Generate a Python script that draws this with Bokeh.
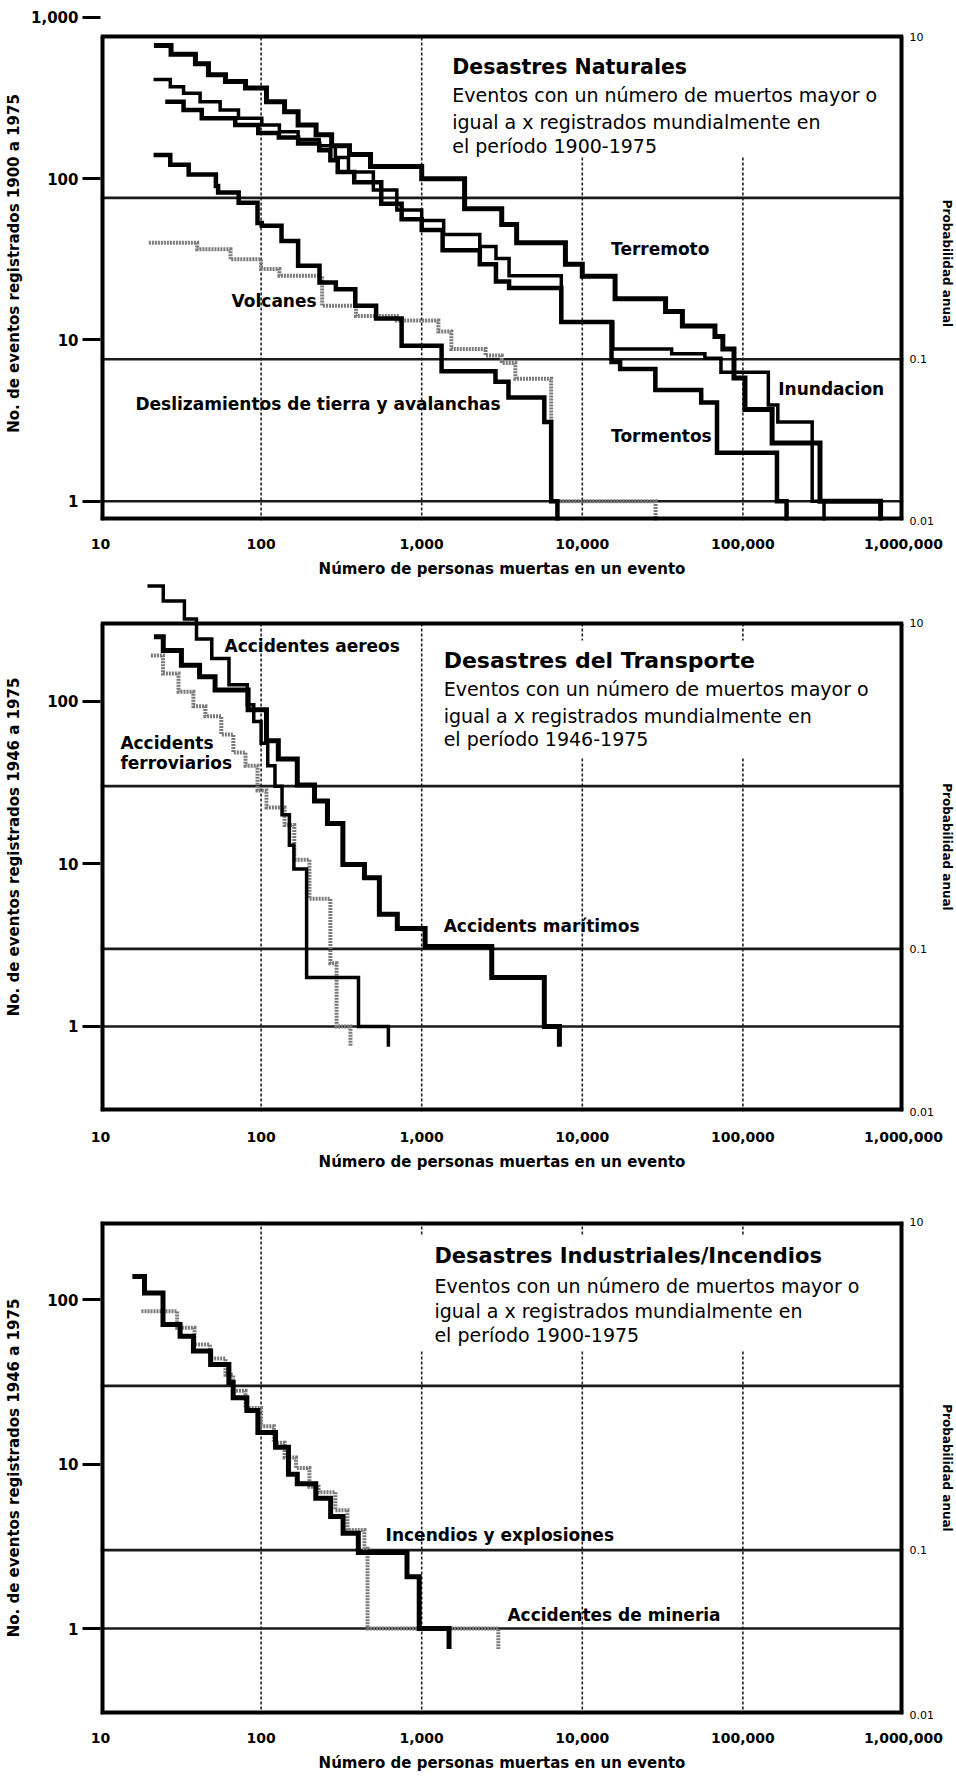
from bokeh.plotting import figure
from bokeh.layouts import column
from bokeh.models import Range1d, LogAxis, LogScale, FixedTicker, NumeralTickFormatter, Label
from bokeh.embed import file_html
from bokeh.resources import INLINE

FONT = "DejaVu Sans"

# ---------------- shared axis data ----------------
x_ticks = [10, 100, 1000, 10000, 100000, 1000000]
x_grid = [100, 1000, 10000, 100000]
prob_ticks = [10, 0.1, 0.01]
prob_grid = [1, 0.1]
prob_range = [0.01, 10]
tail_count = 0.75          # where the last event's drop is drawn to
x_title = "Número de personas muertas en un evento"
right_title = "Probabilidad anual"

# ---------------- panel 1: natural disasters (1900-1975) ----------------
p1_years = 76
p1_left_ticks = [1, 10, 100, 1000]
p1_title = "Desastres Naturales"
p1_sub = ["Eventos con un número de muertos mayor o",
          "igual a x registrados mundialmente en",
          "el período 1900-1975"]
p1_ytitle = "No. de eventos registrados 1900 a 1975"

terremoto_x = [21.5, 27.5, 39, 47, 60, 80, 108, 140, 170, 220, 275, 355, 480, 1000, 1850,
               3150, 3900, 7850, 10000, 16000, 33000, 42000, 67000, 75000, 88000, 103000,
               152000, 302000, 720000]
terremoto_n = [670, 590, 515, 440, 400, 365, 300, 260, 215, 187, 160, 141, 119, 100, 65,
               52, 40, 29.5, 24.8, 18, 15, 12.2, 10.5, 8.8, 5.8, 3.7, 2.3, 1]

inundacion_x = [21.4, 27.2, 32.9, 41.7, 55.6, 72.3, 101, 130, 170, 230, 290, 350, 500, 700,
                1000, 1370, 2300, 2900, 3500, 7400, 15500, 36000, 58000, 73000, 144000,
                165000, 270000, 320000]
inundacion_n = [412, 371, 338, 300, 266, 237, 215, 195, 175, 160, 135, 110, 85, 64, 55, 45,
                38, 32, 25, 12.9, 8.8, 8.2, 7.7, 6.3, 3.95, 3.1, 1]

tormentos_x = [25.3, 32.9, 42.7, 69, 96, 129, 170, 230, 270, 300, 380, 560, 750, 1000, 1350,
               2300, 2900, 3500, 7400, 15200, 17200, 28500, 55000, 69000, 163000, 187000]
tormentos_n = [300, 266, 237, 215, 192, 180, 165, 150, 130, 110, 95, 70, 56, 48, 36, 29.5,
               23, 21, 12.9, 7.3, 6.6, 4.9, 4.1, 2, 1]

deslizamientos_x = [21.4, 27.2, 35.4, 52.3, 54, 72.5, 95, 101, 134, 170, 231, 292, 386, 520,
                    750, 1330, 2880, 3470, 5800, 6400, 7000]
deslizamientos_n = [140, 122, 106, 90, 82, 71, 53, 51, 41, 28.8, 22.7, 20.6, 16.3, 13.6,
                    9.2, 6.4, 5.5, 4.4, 3.1, 1]

volcanes_x = [20, 40, 64.5, 100, 130, 240, 390, 700, 1270, 1530, 2500, 3150, 3830, 6400, 28600]
volcanes_n = [40, 36.5, 31.6, 27.5, 25, 16.3, 14.1, 13.2, 11.3, 8.8, 8.0, 7.2, 5.75, 1]

# ---------------- panel 2: transport (1946-1975) ----------------
p2_years = 30
p2_left_ticks = [1, 10, 100]
p2_title = "Desastres del Transporte"
p2_sub = ["Eventos con un número de muertos mayor o",
          "igual a x registrados mundialmente en",
          "el período 1946-1975"]
p2_ytitle = "No. de eventos registrados 1946 a 1975"

aereos_x = [19.6, 24.6, 33.3, 39.6, 49.3, 63.1, 82, 90, 100, 110, 122, 135, 150, 160, 192,
            404, 620]
aereos_n = [510, 413, 320, 241, 183, 126, 95, 75, 55, 40, 30, 20, 13, 9.3, 2, 1]

maritimos_x = [21.5, 24.6, 31.9, 41.4, 51.7, 83, 108, 128, 168, 215, 259, 323, 440, 545, 705,
               1050, 2730, 5800, 7200]
maritimos_n = [249, 205, 166, 141, 117, 88.5, 57.1, 44, 30.5, 24.3, 17.7, 9.9, 8.2, 4.9, 4.0,
               3.1, 2, 1]

ferroviarios_x = [20.6, 24.5, 30.6, 37.9, 45, 56.5, 67.2, 80, 95, 108, 140, 161, 200, 270,
                  295, 360]
ferroviarios_n = [191, 148, 114, 93, 80.7, 62.4, 48.3, 40.1, 28.2, 22.2, 17.3, 10.6, 6.1,
                  2.45, 1]

# ---------------- panel 3: industrial / fires ----------------
p3_years = 30
p3_left_ticks = [1, 10, 100]
p3_title = "Desastres Industriales/Incendios"
p3_sub = ["Eventos con un número de muertos mayor o",
          "igual a x registrados mundialmente en",
          "el período 1900-1975"]
p3_ytitle = "No. de eventos registrados 1946 a 1975"

incendios_x = [15.8, 18.8, 24.5, 31.3, 37.9, 48.5, 63, 67, 81.5, 95.5, 123, 148, 168, 219,
               271, 324, 403, 810, 965, 1480]
incendios_n = [139, 110, 70.8, 60, 48.9, 40.5, 31.4, 25.4, 21.2, 15.6, 12.7, 8.7, 7.6, 6.2,
               4.8, 3.8, 2.9, 2.07, 1]

mineria_x = [18, 30, 38.5, 48, 60, 67, 80, 100, 120, 140, 165, 200, 228, 290, 345, 440, 460, 3000]
mineria_n = [85.4, 67.6, 53.5, 44, 35, 28, 22, 17, 13.5, 11, 9.5, 7.3, 6.76, 5.25, 3.98, 3.06, 1]

BLACK = "black"
GREY = "#7a7a7a"


def step_path(xs, ns, bottom):
    px, py = [], []
    for i, n in enumerate(ns):
        px += [xs[i], xs[i + 1]]
        py += [n, n]
    px.append(xs[-1])
    py.append(bottom)
    return px, py


def build(cfg):
    years = cfg["years"]
    lo = prob_range[0] * years
    top = prob_range[1] * years
    hi = cfg["y_hi"]
    p = figure(width=956, height=cfg["height"], x_axis_type="log", y_axis_type="log",
               x_range=Range1d(10, 1e6), y_range=Range1d(lo, hi),
               output_backend="svg", toolbar_location=None,
               min_border_left=100, min_border_right=49,
               min_border_top=cfg["border_top"], min_border_bottom=cfg["border_bottom"])
    p.outline_line_color = None
    p.grid.visible = False

    xa = p.xaxis[0]
    xa.ticker = FixedTicker(ticks=x_ticks)
    xa.formatter = NumeralTickFormatter(format="0,0")
    xa.axis_line_color = None
    xa.major_tick_line_color = None
    xa.minor_tick_line_color = None
    xa.major_label_standoff = cfg["x_standoff"]
    xa.major_label_text_font = FONT
    xa.major_label_text_font_size = "14px"
    xa.major_label_text_font_style = "bold"
    xa.major_label_text_color = BLACK
    xa.axis_label = x_title
    xa.axis_label_standoff = 8
    xa.axis_label_text_font = FONT
    xa.axis_label_text_font_size = "15px"
    xa.axis_label_text_font_style = "bold"
    xa.axis_label_text_color = BLACK

    ya = p.yaxis[0]
    ya.ticker = FixedTicker(ticks=cfg["left_ticks"])
    ya.formatter = NumeralTickFormatter(format="0,0")
    ya.axis_line_color = None
    ya.major_tick_out = 18
    ya.major_tick_in = 0
    ya.major_tick_line_width = 3
    ya.major_tick_line_color = BLACK
    ya.minor_tick_line_color = None
    ya.major_label_standoff = 4
    ya.major_label_text_font = FONT
    ya.major_label_text_font_size = "15px"
    ya.major_label_text_font_style = "bold"
    ya.major_label_text_color = BLACK
    ya.axis_label = cfg["y_title"]
    ya.axis_label_standoff = cfg["y_label_standoff"]
    ya.axis_label_text_font = FONT
    ya.axis_label_text_font_size = "15px"
    ya.axis_label_text_font_style = "bold"
    ya.axis_label_text_color = BLACK

    p.extra_y_ranges = {"prob": Range1d(lo / years, hi / years)}
    p.extra_y_scales = {"prob": LogScale()}
    ra = LogAxis(y_range_name="prob", ticker=FixedTicker(ticks=prob_ticks),
                 formatter=NumeralTickFormatter(format="0.[00]"))
    ra.axis_line_color = None
    ra.major_tick_out = 0
    ra.major_tick_in = 0
    ra.major_tick_line_color = None
    ra.minor_tick_line_color = None
    ra.major_label_standoff = 6
    ra.major_label_text_font = FONT
    ra.major_label_text_font_size = "11px"
    ra.major_label_text_color = BLACK
    ra.axis_label = right_title
    ra.axis_label_standoff = 3
    ra.axis_label_text_font = FONT
    ra.axis_label_text_font_size = "12px"
    ra.axis_label_text_font_style = "bold"
    ra.axis_label_text_color = BLACK
    p.add_layout(ra, "right")

    # dashed vertical grid
    for gx in x_grid:
        p.line([gx, gx], [lo, top], line_color="#222222", line_width=1.6, line_dash="3 2")
    # white area behind the caption
    bx0, bx1, by0, by1 = cfg["text_bg"]
    p.quad(left=[bx0], right=[bx1], bottom=[by0], top=[by1], fill_color="white", line_color=None)
    # horizontal probability lines + count = 1 line
    for lvl in [g * years for g in prob_grid] + [1]:
        p.line([10, 1e6], [lvl, lvl], line_color="#1a1a1a", line_width=2.6)

    for s in cfg["series"]:
        px, py = step_path(s["x"], s["n"], tail_count)
        p.line(px, py, line_color=s["color"], line_width=s["width"], line_dash=s["dash"],
               line_join="miter")

    # frame box
    p.line([10, 10], [lo, top], line_color=BLACK, line_width=8)
    p.line([1e6, 1e6], [lo, top], line_color=BLACK, line_width=8)
    p.line([10, 1e6], [lo, lo], line_color=BLACK, line_width=8)
    p.line([10, 1e6], [top, top], line_color=BLACK, line_width=8 if top >= hi else 4)

    # captions
    tx, ty = cfg["title_pos"]
    p.add_layout(Label(x=tx, y=ty, text=cfg["title"], text_font=FONT,
                       text_font_size=cfg["title_size"], text_font_style="bold",
                       text_baseline="middle", text_color=BLACK))
    for txt, (sx, sy) in zip(cfg["sub"], cfg["sub_pos"]):
        p.add_layout(Label(x=sx, y=sy, text=txt, text_font=FONT, text_font_size="19px",
                           text_baseline="middle", text_color=BLACK))
    for txt, lx, ly in cfg["labels"]:
        p.add_layout(Label(x=lx, y=ly, text=txt, text_font=FONT, text_font_size="17px",
                           text_font_style="bold", text_baseline="middle", text_color=BLACK))
    return p


panel1 = dict(
    years=p1_years, y_hi=1167, height=582, border_top=6, border_bottom=62, x_standoff=12,
    left_ticks=p1_left_ticks, y_title=p1_ytitle, y_label_standoff=5,
    text_bg=(1100, 9e5, 137, 760),
    title=p1_title, title_size="20.5px", title_pos=(1550, 490), sub=p1_sub,
    sub_pos=[(1550, 330), (1550, 225), (1550, 160)],
    labels=[("Terremoto", 15100, 36.4), ("Volcanes", 65.5, 17.4),
            ("Deslizamientos de tierra y avalanchas", 16.5, 4.0),
            ("Inundacion", 166000, 5.0), ("Tormentos", 15100, 2.55)],
    series=[
        dict(x=volcanes_x, n=volcanes_n, color=GREY, width=4, dash="2 1"),
        dict(x=deslizamientos_x, n=deslizamientos_n, color=BLACK, width=4.5, dash="solid"),
        dict(x=inundacion_x, n=inundacion_n, color=BLACK, width=3.5, dash="solid"),
        dict(x=tormentos_x, n=tormentos_n, color=BLACK, width=4.5, dash="solid"),
        dict(x=terremoto_x, n=terremoto_n, color=BLACK, width=5, dash="solid"),
    ])

panel2 = dict(
    years=p2_years, y_hi=536, height=598, border_top=0, border_bottom=69, x_standoff=14,
    left_ticks=p2_left_ticks, y_title=p2_ytitle, y_label_standoff=21,
    text_bg=(1100, 9e5, 45, 236),
    title=p2_title, title_size="22px", title_pos=(1370, 178), sub=p2_sub,
    sub_pos=[(1370, 119.4), (1370, 81.3), (1370, 58.7)],
    labels=[("Accidentes aereos", 59.2, 219.7), ("Accidents", 13.3, 55.6),
            ("ferroviarios", 13.3, 41.8), ("Accidents marítimos", 1370, 4.17)],
    series=[
        dict(x=ferroviarios_x, n=ferroviarios_n, color=GREY, width=4, dash="2 1"),
        dict(x=aereos_x, n=aereos_n, color=BLACK, width=3.5, dash="solid"),
        dict(x=maritimos_x, n=maritimos_n, color=BLACK, width=5, dash="solid"),
    ])

panel3 = dict(
    years=p3_years, y_hi=300, height=596, border_top=41, border_bottom=62, x_standoff=12,
    left_ticks=p3_left_ticks, y_title=p3_ytitle, y_label_standoff=21,
    text_bg=(900, 9e5, 49, 244),
    title=p3_title, title_size="21px", title_pos=(1200, 185), sub=p3_sub,
    sub_pos=[(1200, 121.5), (1200, 85.8), (1200, 61.4)],
    labels=[("Incendios y explosiones", 596, 3.71), ("Accidentes de mineria", 3420, 1.216)],
    series=[
        dict(x=mineria_x, n=mineria_n, color=GREY, width=4, dash="2 1"),
        dict(x=incendios_x, n=incendios_n, color=BLACK, width=5, dash="solid"),
    ])

layout = column(build(panel1), build(panel2), build(panel3))
open("out.html", "w").write(file_html(layout, INLINE))
